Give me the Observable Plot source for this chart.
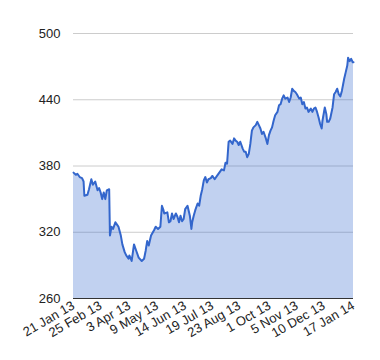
<!DOCTYPE html>
<html><head><meta charset="utf-8">
<script src="https://cdn.jsdelivr.net/npm/d3@7"></script>
<script src="https://cdn.jsdelivr.net/npm/@observablehq/plot@0.6"></script>
<style>body{margin:0;background:#fff}</style>
</head><body><div id="chart"></div>
<script>
const dates = [
"2013-01-21","2013-01-24","2013-01-26","2013-01-29","2013-02-01","2013-02-03","2013-02-04","2013-02-08","2013-02-10","2013-02-13",
"2013-02-15","2013-02-18","2013-02-21","2013-02-23","2013-02-25","2013-02-27","2013-03-01","2013-03-03","2013-03-05","2013-03-08",
"2013-03-09","2013-03-11","2013-03-13","2013-03-16","2013-03-19","2013-03-20","2013-03-23","2013-03-25","2013-03-28","2013-03-30",
"2013-04-02","2013-04-03","2013-04-06","2013-04-09","2013-04-12","2013-04-15","2013-04-19","2013-04-22","2013-04-24","2013-04-26",
"2013-04-28","2013-05-01","2013-05-05","2013-05-07","2013-05-10","2013-05-13","2013-05-15","2013-05-17","2013-05-18","2013-05-22",
"2013-05-24","2013-05-26","2013-05-28","2013-05-30","2013-06-02","2013-06-04","2013-06-06","2013-06-08","2013-06-10","2013-06-12",
"2013-06-14","2013-06-17","2013-06-20","2013-06-22","2013-06-23","2013-06-25","2013-06-27","2013-06-30","2013-07-02","2013-07-04",
"2013-07-06","2013-07-08","2013-07-10","2013-07-12","2013-07-14","2013-07-17","2013-07-19","2013-07-22","2013-07-25","2013-07-28",
"2013-07-31","2013-08-03","2013-08-05","2013-08-07","2013-08-09","2013-08-11","2013-08-14","2013-08-16","2013-08-18","2013-08-20",
"2013-08-22","2013-08-24","2013-08-27","2013-08-29","2013-08-31","2013-09-02","2013-09-04","2013-09-06","2013-09-08","2013-09-10",
"2013-09-13","2013-09-15","2013-09-17","2013-09-19","2013-09-21","2013-09-23","2013-09-26","2013-09-28","2013-09-30","2013-10-02",
"2013-10-04","2013-10-06","2013-10-08","2013-10-11","2013-10-13","2013-10-15","2013-10-17","2013-10-19","2013-10-21","2013-10-24",
"2013-10-26","2013-10-28","2013-10-30","2013-11-01","2013-11-03","2013-11-05","2013-11-08","2013-11-10","2013-11-12","2013-11-14",
"2013-11-16","2013-11-18","2013-11-20","2013-11-23","2013-11-25","2013-11-27","2013-11-29","2013-12-01","2013-12-03","2013-12-05",
"2013-12-07","2013-12-08","2013-12-11","2013-12-13","2013-12-14","2013-12-16","2013-12-18","2013-12-21","2013-12-23","2013-12-25",
"2013-12-27","2013-12-29","2013-12-31","2014-01-02","2014-01-05","2014-01-07","2014-01-09","2014-01-10","2014-01-12","2014-01-14",
"2014-01-16","2014-01-17"
];
const values = [
374,372,373,370,369,366,353,354,359,368,
363,366,358,360,356,350,356,350,358,359,
317,325,323,329,326,325,317,309,302,299,
296,299,294,309,303,297,294,296,303,312,
308,317,322,325,323,325,344,340,337,338,
329,330,337,332,337,334,329,335,330,332,
341,344,335,323,329,335,340,346,344,353,
359,367,370,365,368,369,371,368,371,374,
377,376,383,382,402,403,400,405,403,402,
399,402,396,393,393,388,391,400,412,415,
417,420,417,414,409,411,405,400,408,412,
415,421,426,429,435,436,441,444,441,442,
438,442,450,448,447,445,441,442,436,438,
432,433,429,432,429,432,433,429,424,418,
414,421,433,427,420,420,423,433,445,447,
450,445,443,448,459,465,471,478,475,477,
474,474
];
const tickDates = ["2013-01-21","2013-02-25","2013-04-03","2013-05-09","2013-06-14","2013-07-19","2013-08-23","2013-10-01","2013-11-05","2013-12-10","2014-01-17"];
const yTicks = [260, 320, 380, 440, 500];

const data = dates.map((d, i) => ({date: new Date(d), value: values[i]}));

const chart = Plot.plot({
  width: 380, height: 360,
  marginLeft: 73, marginRight: 27, marginTop: 33, marginBottom: 62,
  style: {fontFamily: "'Liberation Sans', Arial, sans-serif", fontSize: "13px", color: "#222", background: "#fff"},
  x: {type: "utc", domain: [new Date(tickDates[0]), new Date(tickDates[tickDates.length - 1])]},
  y: {domain: [260, 500]},
  marks: [
    Plot.gridY(yTicks, {stroke: "#ccc", strokeOpacity: 1}),
    Plot.areaY(data, {x: "date", y1: 260, y2: "value", fill: "#3366cc", fillOpacity: 0.3}),
    Plot.lineY(data, {x: "date", y: "value", stroke: "#3366cc", strokeWidth: 2}),
    Plot.ruleY([260], {stroke: "#333"}),
    Plot.axisY(yTicks, {tickSize: 0, tickPadding: 13, label: null}),
    Plot.axisX(tickDates.map(d => new Date(d)), {tickSize: 0, tickPadding: 6, tickRotate: -30, tickFormat: d3.utcFormat("%-d %b %y"), label: null})
  ]
});
document.getElementById("chart").appendChild(chart);
</script>
</body></html>
